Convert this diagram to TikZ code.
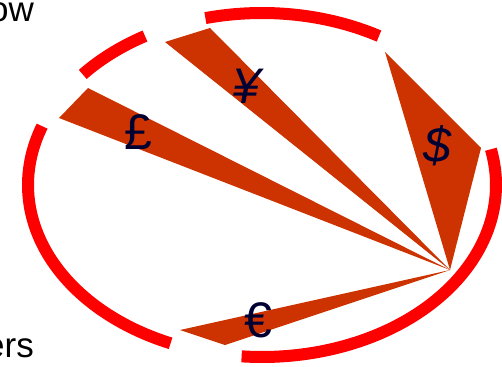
\documentclass[tikz,border=0pt]{standalone}
\usepackage{fontspec}
\setmainfont{Liberation Sans}
\usepackage{tikz}
\usetikzlibrary{positioning,calc}

\definecolor{wedgecol}{HTML}{CC3300}
\definecolor{symcol}{HTML}{000033}

\tikzset{
  ring/.style={draw=red, line width=12pt},
  wedge/.style={fill=wedgecol, draw=none},
  cursym/.style={text=symcol, inner sep=0pt, font=\fontsize{50}{60}\selectfont},
  word/.style={inner sep=0pt, anchor=base east, font=\fontsize{35}{42}\selectfont}
}

\begin{document}
\begin{tikzpicture}[x=1pt,y=-1pt]
        \useasboundingbox (0,0) rectangle (502,366);

        % cut-off words
        \node[word] (w1) at (34,22) {ow};
        \node[word] (w2) at (34,357) {ers};

        % ring
        \draw[ring] plot[domain=60:104, samples=40] ({262+234*cos(\x)}, {185-172*sin(\x)});
        \draw[ring] plot[domain=120:140, samples=20] ({262+234*cos(\x)}, {185-172*sin(\x)});
        \draw[ring] plot[domain=160:247, samples=60] ({262+234*cos(\x)}, {185-172*sin(\x)});
        \draw[ring] plot[domain=265:372, samples=80] ({262+234*cos(\x)}, {185-172*sin(\x)});

        % wedges
        \coordinate (hub) at (450,270);
        \fill[wedge] (hub) -- (385,52) -- (481,148) -- cycle;
        \fill[wedge] (hub) -- (165,42) -- (210,28) -- cycle;
        \fill[wedge] (hub) -- (59,118) -- (88,88) -- cycle;
        \fill[wedge] (hub) -- (180,330) -- (225,345) -- cycle;

        % symbols
        \node[cursym] (usd) at (437,146) {\itshape\$};
        \node[cursym] (yen) at (246,86) {\itshape ¥};
        \node[cursym] (gbp) at (138,132) {£};
        \node[cursym] (eur) at (258,320) {€};
    \end{tikzpicture}
\end{document}
